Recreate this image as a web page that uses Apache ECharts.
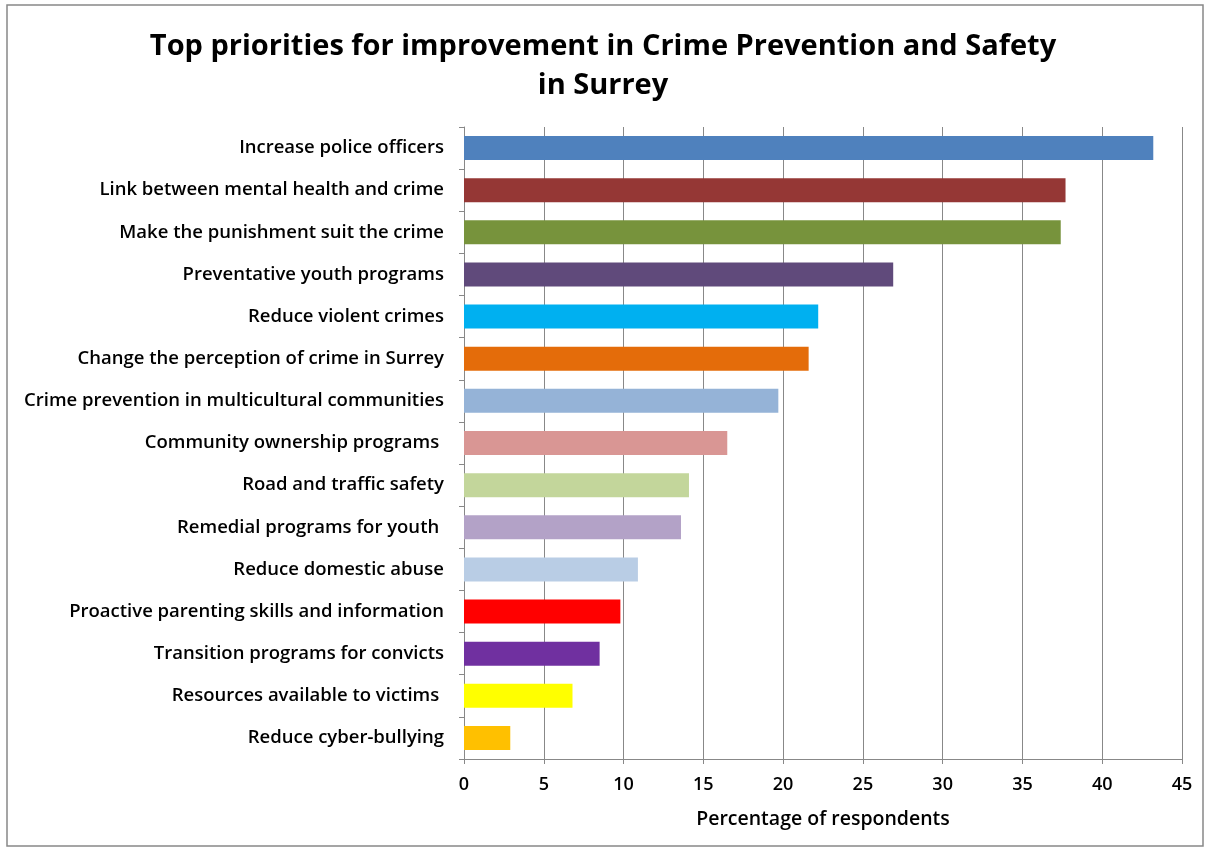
<!DOCTYPE html>
<html><head><meta charset="utf-8">
<script src="https://cdn.jsdelivr.net/npm/echarts@6/dist/echarts.min.js"></script>
<style>html,body{margin:0;padding:0;background:#fff}#c{width:1206px;height:850px}</style>
</head><body><div id="c"></div>
<script>
const categories = [
  "Increase police officers",
  "Link between mental health and crime",
  "Make the punishment suit the crime",
  "Preventative youth programs",
  "Reduce violent crimes",
  "Change the perception of crime in Surrey",
  "Crime prevention in multicultural communities",
  "Community ownership programs ",
  "Road and traffic safety",
  "Remedial programs for youth ",
  "Reduce domestic abuse",
  "Proactive parenting skills and information",
  "Transition programs for convicts",
  "Resources available to victims ",
  "Reduce cyber-bullying"
];
const values = [43.2, 37.7, 37.4, 26.9, 22.2, 21.6, 19.7, 16.5, 14.1, 13.6, 10.9, 9.8, 8.5, 6.8, 2.9];
const colors = ["#4F81BD","#953735","#77933C","#604A7B","#00B0F0","#E46C0A","#95B3D7","#D99694","#C3D69B","#B3A2C7","#B9CDE5","#FF0000","#7030A0","#FFFF00","#FFC000"];
const xTicks = [0,5,10,15,20,25,30,35,40,45];

const chart = echarts.init(document.getElementById('c'));
chart.setOption({
  animation: false,
  backgroundColor: '#fff',
  title: {
    text: 'Top priorities for improvement in Crime Prevention and Safety\nin Surrey',
    left: 'center', top: 22,
    textStyle: {fontFamily: 'Open Sans', fontWeight: 'bold', fontSize: 29, lineHeight: 39, color: '#000'}
  },
  graphic: [{type: 'rect', shape: {x: 7, y: 5, width: 1196, height: 841}, style: {fill: 'none', stroke: '#888', lineWidth: 1.5}, silent: true}],
  grid: {left: 464, right: 24, top: 127, bottom: 91},
  xAxis: {
    type: 'value', min: 0, max: 45, interval: 5,
    name: 'Percentage of respondents', nameLocation: 'middle', nameGap: 50,
    nameTextStyle: {fontFamily: 'Open Sans', fontWeight: 600, fontSize: 19.5, color: '#000'},
    axisLine: {show: true, lineStyle: {color: '#888'}},
    axisTick: {show: true, length: 5, lineStyle: {color: '#888'}},
    axisLabel: {fontFamily: 'Open Sans', fontWeight: 600, fontSize: 18, color: '#000', margin: 17,
      formatter: v => xTicks.includes(v) ? String(v) : ''},
    splitLine: {show: true, lineStyle: {color: '#888', width: 1}}
  },
  yAxis: {
    type: 'category', data: categories, inverse: true,
    axisLine: {show: true, lineStyle: {color: '#888'}},
    axisTick: {show: true, length: 5, inside: false, lineStyle: {color: '#888'}},
    axisLabel: {fontFamily: 'Open Sans', fontWeight: 600, fontSize: 18.5, color: '#000', margin: 20}
  },
  series: [{
    type: 'bar',
    data: values.map((v, i) => ({value: v, itemStyle: {color: colors[i]}})),
    barCategoryGap: '43%'
  }]
});
</script></body></html>
